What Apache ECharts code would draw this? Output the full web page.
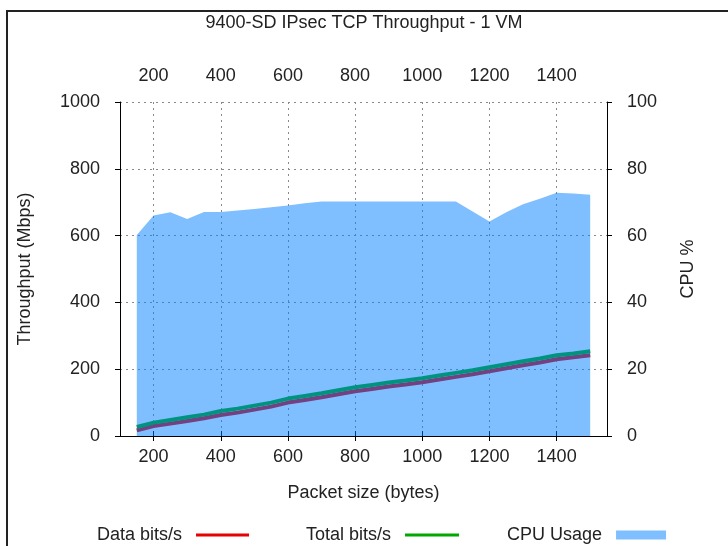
<!DOCTYPE html>
<html>
<head>
<meta charset="utf-8">
<script src="https://cdn.jsdelivr.net/npm/echarts@6/dist/echarts.min.js"></script>
<style>html,body{margin:0;padding:0;background:#fff;}#c{width:728px;height:546px;}</style>
</head>
<body>
<div id="c"></div>
<script>
const packetSizes = [150,200,250,300,350,400,450,500,550,600,650,700,750,800,850,900,950,1000,1050,1100,1150,1200,1250,1300,1350,1400,1450,1500];
const dataBits = [17,30,37,45,53,63,70,79,88,100,108,116,125,134,141,148,154,161,169,177,185,194,203,212,220,230,236,242];
const totalBits = [27,40,48,56,64,75,82,91,100,112,120,128,137,146,153,160,166,173,181,189,197,206,215,224,232,242,247,254];
const cpuUsage = [60.2,66,67,65,67.1,67.1,67.5,68,68.5,69,69.7,70.2,70.2,70.2,70.2,70.2,70.2,70.2,70.2,70.2,67.2,64.2,67,69.4,71,72.8,72.6,72.2];
const xTicks = [200,400,600,800,1000,1200,1400];
const titleText = '9400-SD IPsec TCP Throughput - 1 VM';

const FONT = 'Liberation Sans';
const FS = 18;
const plain = v => String(v);
const gridLine = {show:true, lineStyle:{color:'#8a8a8a', width:1, type:[2,4]}};
const pair = (xs, ys) => xs.map((x,i)=>[x, ys[i]]);

const chart = echarts.init(document.getElementById('c'), null, {renderer:'canvas'});
chart.setOption({
  animation:false,
  backgroundColor:'#fff',
  textStyle:{fontFamily:FONT},
  title:{text:titleText, left:'center', top:14, padding:0, z:10, textStyle:{fontFamily:FONT, fontSize:FS, fontWeight:'normal', color:'#222'}},
  graphic:[{type:'rect', shape:{x:7, y:11, width:800, height:700}, style:{fill:'none', stroke:'#222', lineWidth:2}, silent:true, z:0}],
  grid:{left:120, right:121, top:102, bottom:110, containLabel:false},
  xAxis:[
    {type:'value', min:100, max:1550, position:'bottom',
     name:'Packet size (bytes)', nameLocation:'middle', nameGap:48,
     nameTextStyle:{fontFamily:FONT, fontSize:FS, color:'#222'},
     axisLine:{show:true, lineStyle:{color:'#000', width:1}},
     axisTick:{show:true, customValues:xTicks, length:5, lineStyle:{color:'#000'}},
     axisLabel:{customValues:xTicks, margin:12, fontSize:FS, color:'#222', fontFamily:FONT, formatter:plain},
     splitLine:Object.assign({customValues:xTicks}, gridLine)},
    {type:'value', min:100, max:1550, position:'top',
     axisLine:{show:true, lineStyle:{color:'#000', width:1}},
     axisTick:{show:true, customValues:xTicks, length:5, lineStyle:{color:'#000'}},
     axisLabel:{customValues:xTicks, margin:17, fontSize:FS, color:'#222', fontFamily:FONT, formatter:plain},
     splitLine:{show:false}}
  ],
  yAxis:[
    {type:'value', min:0, max:1000, interval:200, position:'left',
     name:'Throughput (Mbps)', nameLocation:'middle', nameGap:86, nameRotate:90,
     nameTextStyle:{fontFamily:FONT, fontSize:FS, color:'#222'},
     axisLine:{show:true, lineStyle:{color:'#000', width:1}},
     axisTick:{show:true, length:5, lineStyle:{color:'#000'}},
     axisLabel:{margin:20, fontSize:FS, color:'#222', fontFamily:FONT, formatter:plain},
     splitLine:gridLine},
    {type:'value', min:0, max:100, interval:20, position:'right',
     name:'CPU %', nameLocation:'middle', nameGap:72, nameRotate:90,
     nameTextStyle:{fontFamily:FONT, fontSize:FS, color:'#222'},
     axisLine:{show:true, lineStyle:{color:'#000', width:1}},
     axisTick:{show:true, length:5, lineStyle:{color:'#000'}},
     axisLabel:{margin:20, fontSize:FS, color:'#222', fontFamily:FONT, formatter:plain},
     splitLine:{show:false}}
  ],
  legend:[
    {left:97, top:526, padding:0, align:'right', icon:'rect', itemWidth:53, itemHeight:3,
     data:[{name:'Data bits/s'}], textStyle:{fontFamily:FONT, fontSize:FS, color:'#222', padding:[0,9,0,0]}},
    {left:306, top:526, padding:0, align:'right', icon:'rect', itemWidth:54, itemHeight:3,
     data:[{name:'Total bits/s'}], textStyle:{fontFamily:FONT, fontSize:FS, color:'#222', padding:[0,9,0,0]}},
    {left:507, top:526, padding:0, align:'right', icon:'rect', itemWidth:50, itemHeight:9,
     data:[{name:'CPU Usage'}], textStyle:{fontFamily:FONT, fontSize:FS, color:'#222', padding:[0,9,0,0]}}
  ],
  series:[
    {name:'Data bits/s', type:'line', z:2, xAxisIndex:0, yAxisIndex:0, data:pair(packetSizes, dataBits),
     showSymbol:false, color:'#e60000', lineStyle:{width:4, color:'#e60000'}},
    {name:'Total bits/s', type:'line', z:2, xAxisIndex:0, yAxisIndex:0, data:pair(packetSizes, totalBits),
     showSymbol:false, color:'#00a800', lineStyle:{width:4, color:'#00a800'}},
    {name:'CPU Usage', type:'line', z:5, xAxisIndex:0, yAxisIndex:1, data:pair(packetSizes, cpuUsage),
     showSymbol:false, color:'rgba(0,128,255,0.5)', lineStyle:{width:0},
     areaStyle:{color:'rgba(0,128,255,0.5)', opacity:1}}
  ]
});
</script>
</body>
</html>
